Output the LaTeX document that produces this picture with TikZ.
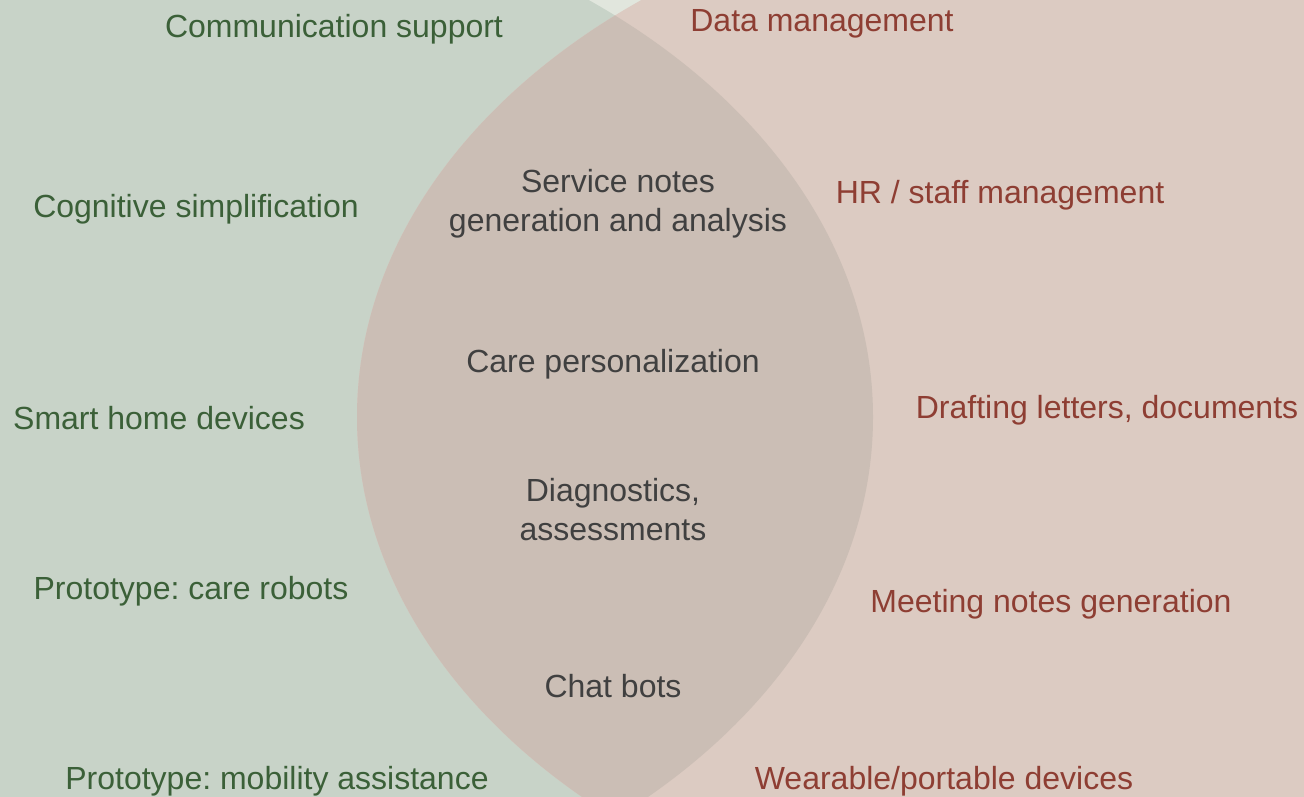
\documentclass[tikz,border=0pt]{standalone}
\usepackage{fontspec}
\setmainfont{Liberation Sans}
\frenchspacing
\definecolor{bgpale}{HTML}{E1E6DD}
\definecolor{leftfill}{HTML}{C8D3C8}
\definecolor{rightfill}{HTML}{DCCBC2}
\definecolor{lensfill}{HTML}{CBBEB5}
\definecolor{leftink}{HTML}{3B6038}
\definecolor{rightink}{HTML}{8E3E33}
\definecolor{midink}{HTML}{404040}
\begin{document}
\begin{tikzpicture}[x=1pt,y=-1pt,
  lbl/.style={inner sep=0pt, anchor=base, font=\fontsize{32pt}{38.5pt}\selectfont, align=center},
  lefttext/.style={lbl, text=leftink},
  righttext/.style={lbl, text=rightink},
  midtext/.style={lbl, text=midink}]
  % canvas
  \useasboundingbox (0,0) rectangle (1304,796);
  \fill[bgpale] (0,0) rectangle (1304,796);
  % the two sets
  \fill[leftfill]  (130,417) ellipse [x radius=743pt, y radius=530pt];
  \fill[rightfill] (1100,417) ellipse [x radius=743pt, y radius=530pt];
  % overlap of the two sets
  \begin{scope}
    \clip (130,417) ellipse [x radius=743pt, y radius=530pt];
    \fill[lensfill] (1100,417) ellipse [x radius=743pt, y radius=530pt];
  \end{scope}

  % left set
  \node[lefttext] (comm)  at (334,37)  {Communication support};
  \node[lefttext] (cogn)  at (196,217) {Cognitive simplification};
  \node[lefttext] (smart) at (159,429) {Smart home devices};
  \node[lefttext] (robot) at (191,599) {Prototype: care robots};
  \node[lefttext] (mobil) at (277,789) {Prototype: mobility assistance};

  % right set
  \node[righttext] (data)  at (822,31)   {Data management};
  \node[righttext] (hr)    at (1000,203) {HR / staff management};
  \node[righttext] (draft) at (1107,418) {Drafting letters, documents};
  \node[righttext] (meet)  at (1051,612) {Meeting notes generation};
  \node[righttext] (wear)  at (944,789)  {Wearable/portable devices};

  % shared
  \node[midtext] (notes) at (618,231) {Service notes\\generation and analysis};
  \node[midtext] (care)  at (613,372) {Care personalization};
  \node[midtext] (diag)  at (613,540) {Diagnostics,\\assessments};
  \node[midtext] (chat)  at (613,697) {Chat bots};
\end{tikzpicture}
\end{document}
